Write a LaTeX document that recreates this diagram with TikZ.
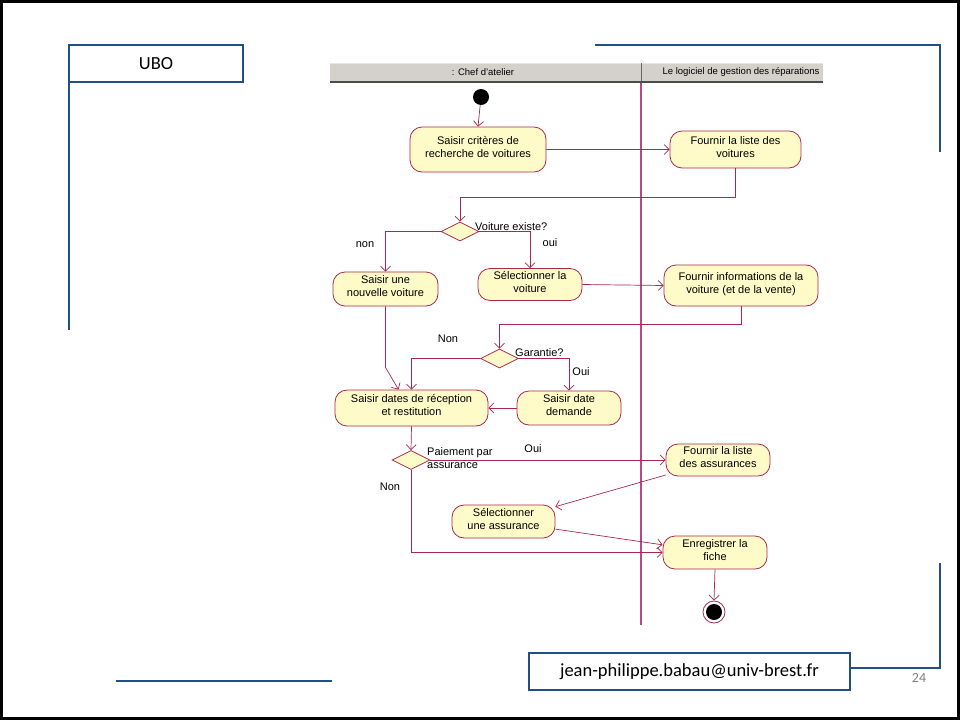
\documentclass[tikz,border=0pt]{standalone}
\usepackage{fontspec}
\setmainfont{Liberation Sans}
\newfontfamily\calib{Carlito}
\usetikzlibrary{shapes.geometric,arrows.meta}
\definecolor{ubob}{RGB}{35,78,138}
\definecolor{actfill}{RGB}{255,251,200}
\definecolor{actline}{RGB}{170,40,80}
\definecolor{laneline}{RGB}{190,70,130}
\definecolor{hdrgray}{RGB}{212,209,202}
\begin{document}
\begin{tikzpicture}[x=1pt,y=-1pt,
  act/.style={draw=actline, fill=actfill, line width=0.8pt, rounded corners=12pt, align=center,
    inner sep=0pt, font=\fontsize{11}{13}\selectfont, execute at end node={\rule[-5.5pt]{0pt}{5.5pt}}},
  dec/.style={draw=actline, fill=actfill, line width=0.8pt, diamond, minimum width=38pt, minimum height=19pt, inner sep=0pt},
  flow/.style={draw=actline, line width=0.7pt, -{Straight Barb[length=5pt,width=10pt]}},
  lbl/.style={font=\fontsize{11}{13}\selectfont, inner sep=0pt},
  hdr/.style={font=\fontsize{9.5}{11}\selectfont, inner sep=0pt},
  blueline/.style={draw=ubob, line width=2.8pt},
  calbox/.style={draw=ubob, line width=2.5pt, font=\calib\fontsize{18.5}{22}\selectfont, inner sep=0pt}]
\useasboundingbox (0,0) rectangle (960,720);
% outer frame
\draw[line width=3pt] (1.5,1.5) rectangle (958.5,718.5);
% slide decorations
\node[calbox, minimum width=174pt, minimum height=37pt] (ubo) at (156,63.5) {UBO};
\draw[blueline] (69,68) -- (69,330);
\draw[blueline] (595,45) -- (940,45) -- (940,152);
\draw[blueline] (940,563) -- (940,668) -- (850,668);
\draw[blueline] (116,681) -- (332,681);
\node[calbox, minimum width=321pt, minimum height=37pt] (mail) at (689.5,671.5) {jean-philippe.babau@univ-brest.fr};
\node[font=\calib\fontsize{14}{16}\selectfont, text=gray, inner sep=0pt] (pg) at (919,678) {24};
% swimlane header
\fill[hdrgray] (330,63) rectangle (823,81);
\draw[white!80!gray, line width=0.8pt] (330,63.5) -- (823,63.5);
\draw[black!70, line width=2.5pt] (330,82) -- (823,82);
\draw[black!60, line width=1pt] (641,63) -- (641,81);
\node[hdr] (h1) at (483,72) {: Chef d'atelier};
\node[hdr] (h2) at (741,72) {Le logiciel de gestion des réparations};
\draw[laneline, line width=1.4pt] (641,83) -- (641,625);
% initial and final
\node[circle, fill=black, minimum size=16pt, inner sep=0pt] (init) at (481,97) {};
\node[circle, draw=actline, line width=0.8pt, fill=white, minimum size=22pt, inner sep=0pt] (fin) at (714,612) {};
\node[circle, fill=black, minimum size=16pt, inner sep=0pt] (fincore) at (714,612) {};
% actions
\node[act, minimum width=136pt, minimum height=45pt] (a1) at (478,149.5) {Saisir critères de\\recherche de voitures};
\node[act, minimum width=131pt, minimum height=37pt] (a2) at (735.5,149.5) {Fournir la liste des\\voitures};
\node[dec] (d1) at (460,231.5) {};
\node[act, minimum width=105pt, minimum height=34pt] (a3) at (385.5,289) {Saisir une\\nouvelle voiture};
\node[act, minimum width=104pt, minimum height=32pt] (a4) at (530,284.5) {Sélectionner la\\voiture};
\node[act, minimum width=154pt, minimum height=41pt] (a5) at (741,285.5) {Fournir informations de la\\voiture (et de la vente)};
\node[dec] (d2) at (499.5,358.5) {};
\node[act, minimum width=153pt, minimum height=36pt] (a6) at (411.5,408) {Saisir dates de réception\\et restitution};
\node[act, minimum width=104pt, minimum height=34pt] (a7) at (569,408) {Saisir date\\demande};
\node[dec] (d3) at (411,460) {};
\node[act, minimum width=104pt, minimum height=32pt] (a8) at (718,460) {Fournir la liste\\des assurances};
\node[act, minimum width=103pt, minimum height=33pt] (a9) at (503.5,521.5) {Sélectionner\\une assurance};
\node[act, minimum width=104pt, minimum height=33pt] (a10) at (715,552.5) {Enregistrer la\\fiche};
% labels
\node[lbl, anchor=west] (l1) at (475,227) {Voiture existe?};
\node[lbl] (l2) at (365,245) {non};
\node[lbl] (l3) at (550,243) {oui};
\node[lbl] (l4) at (448,339) {Non};
\node[lbl, anchor=west] (l5) at (515,353) {Garantie?};
\node[lbl] (l6) at (581,372) {Oui};
\node[lbl, anchor=north west, align=left] (l7) at (427,447) {Paiement par\\assurance};
\node[lbl] (l8) at (533,449) {Oui};
\node[lbl] (l9) at (390,487) {Non};
% connectors
\draw[flow] (init) -- (a1.north);
\draw[flow] (a1.east) -- (a2.west);
\draw[flow] (a2.south) -- ++(0,29) -| (d1.north);
\draw[flow] (d1.west) -| (a3.north);
\draw[flow] (d1.east) -| (a4.north);
\draw[flow] (a4.east) -- (a5.west);
\draw[flow] (a5.south) -- ++(0,18) -| (d2.north);
\draw[flow] (d2.west) -| (a6.north);
\draw[flow] (d2.east) -| (a7.north);
\draw[flow] (a3.south) -- ++(0,61) -- ([xshift=-13pt]a6.north);
\draw[flow] (a7.west) -- (a6.east);
\draw[flow] (a6.south) -- (d3.north);
\draw[flow] (d3.east) -- (a8.west);
\draw[flow] (d3.south) |- (a10.west);
\draw[flow] (a8) -- (a9);
\draw[flow] (a9) -- (a10);
\draw[flow] (a10.south) -- (fin.north);
\end{tikzpicture}
\end{document}
